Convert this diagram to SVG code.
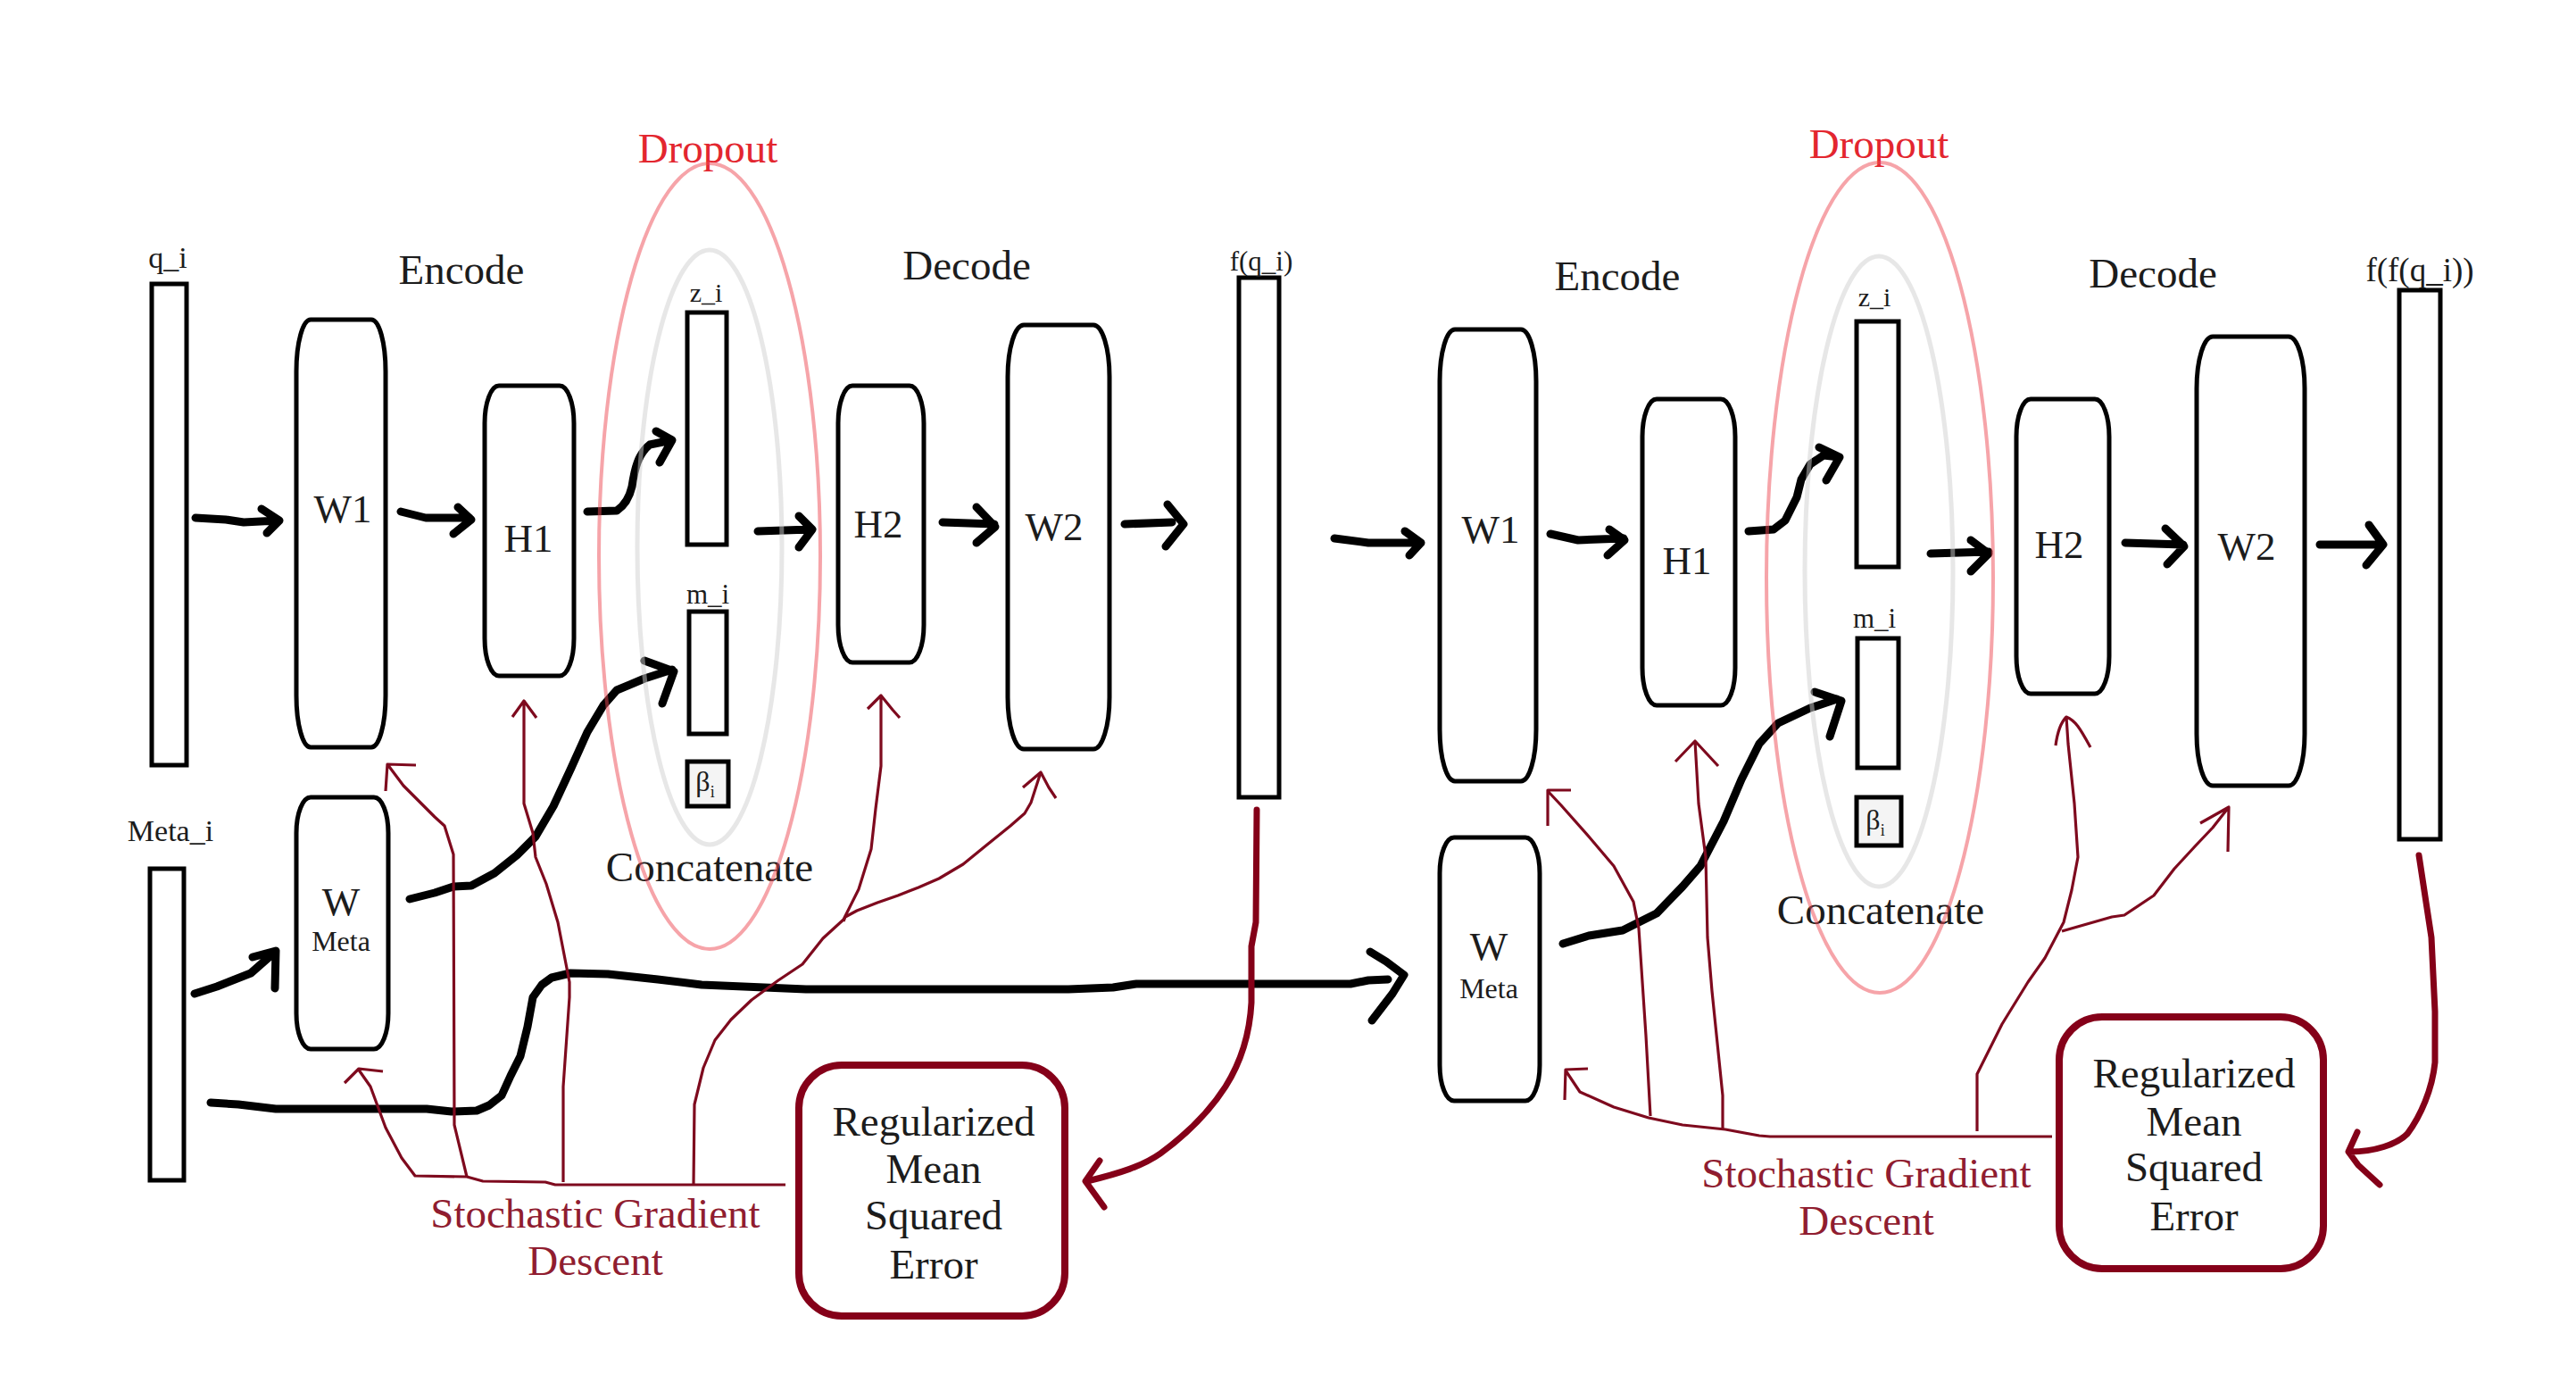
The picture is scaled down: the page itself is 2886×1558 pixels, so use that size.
<svg xmlns="http://www.w3.org/2000/svg" width="2886" height="1558" viewBox="0 0 2886 1558">
<style>
.bx{fill:#fff;stroke:#000;stroke-width:5}
.t{font-family:"Liberation Serif","Times New Roman",serif;fill:#1c1c1c;text-anchor:middle}
.big{font-size:47px}
.med{font-size:45px}
.sm{font-size:31px}
.red{fill:#e3262f}
.sgdt{fill:#901d30}
.arr{fill:none;stroke:#000;stroke-width:9;stroke-linecap:round;stroke-linejoin:round}
.sgd{fill:none;stroke:#7e0a1e;stroke-width:3.2;stroke-linejoin:round}
.loss{fill:none;stroke:#840018;stroke-width:7;stroke-linecap:round;stroke-linejoin:round}
.rm{fill:#fff;stroke:#850019;stroke-width:8}
.dr{fill:none;stroke:#ee4a54;stroke-width:4;opacity:0.5}
.dg{fill:none;stroke:#cfcfcf;stroke-width:5;opacity:0.5}
.beta{fill:#f4f4f4;stroke:#000;stroke-width:5}
</style>
<rect width="2886" height="1558" fill="#fff"/>

<!-- left labels -->
<g id="labels-left">
<text class="t big" x="517" y="318">Encode</text>
<text class="t big" x="1083" y="313">Decode</text>
<text class="t big red" x="793" y="182">Dropout</text>
<text class="t big" x="795" y="987">Concatenate</text>
</g>
<g id="labels-right">
<text class="t big" x="1812" y="325">Encode</text>
<text class="t big" x="2412" y="322">Decode</text>
<text class="t big red" x="2105" y="177">Dropout</text>
<text class="t big" x="2107" y="1035">Concatenate</text>
</g>

<!-- left nodes -->
<g id="q_i"><rect class="bx" x="170" y="318" width="39" height="539"/><text class="t" font-size="34" x="188" y="300">q_i</text></g>
<g id="W1_a"><rect class="bx" x="332" y="358" width="100" height="479" rx="16" ry="58"/><text class="t med" x="384" y="585">W1</text></g>
<g id="H1_a"><rect class="bx" x="543" y="432" width="100" height="325" rx="16" ry="42"/><text class="t med" x="592" y="618">H1</text></g>
<g id="z_i_a"><rect class="bx" x="770" y="350" width="44" height="260"/><text class="t" font-size="30" x="791" y="338">z_i</text></g>
<g id="m_i_a"><rect class="bx" x="772" y="685" width="42" height="137"/><text class="t sm" x="793" y="676">m_i</text></g>
<g id="beta_a"><rect class="beta" x="770" y="853" width="46" height="50"/><text class="t" font-size="32" x="790" y="886">β<tspan font-size="18" dy="7">i</tspan></text></g>
<g id="H2_a"><rect class="bx" x="939" y="432" width="96" height="310" rx="16" ry="42"/><text class="t med" x="984" y="602">H2</text></g>
<g id="W2_a"><rect class="bx" x="1129" y="364" width="114" height="475" rx="18" ry="58"/><text class="t med" x="1181" y="605">W2</text></g>
<g id="f_q_i"><rect class="bx" x="1388" y="311" width="45" height="582"/><text class="t sm" x="1413" y="303">f(q_i)</text></g>
<g id="Meta_i"><rect class="bx" x="168" y="973" width="38" height="349"/><text class="t" font-size="34" x="191" y="942">Meta_i</text></g>
<g id="WMeta_a"><rect class="bx" x="332" y="893" width="103" height="282" rx="16" ry="40"/><text class="t med" x="382" y="1025">W</text><text class="t" font-size="32" x="382" y="1065">Meta</text></g>
<g id="RMSE_a"><rect class="rm" x="895" y="1193" width="298" height="281" rx="48"/>
<text class="t big" x="1046" y="1272">Regularized</text><text class="t big" x="1046" y="1325">Mean</text><text class="t big" x="1046" y="1377">Squared</text><text class="t big" x="1046" y="1432">Error</text></g>
<g id="SGD_a"><text class="t big sgdt" x="667" y="1375">Stochastic Gradient</text><text class="t big sgdt" x="667" y="1428">Descent</text></g>

<!-- right nodes -->
<g id="W1_b"><rect class="bx" x="1613" y="369" width="108" height="506" rx="17" ry="58"/><text class="t med" x="1670" y="608">W1</text></g>
<g id="H1_b"><rect class="bx" x="1840" y="447" width="104" height="343" rx="16" ry="42"/><text class="t med" x="1890" y="643">H1</text></g>
<g id="z_i_b"><rect class="bx" x="2080" y="360" width="47" height="275"/><text class="t" font-size="30" x="2100" y="343">z_i</text></g>
<g id="m_i_b"><rect class="bx" x="2081" y="715" width="46" height="145"/><text class="t sm" x="2100" y="703">m_i</text></g>
<g id="beta_b"><rect class="beta" x="2080" y="893" width="50" height="54"/><text class="t" font-size="32" x="2101" y="929">β<tspan font-size="18" dy="7">i</tspan></text></g>
<g id="H2_b"><rect class="bx" x="2259" y="447" width="104" height="330" rx="16" ry="42"/><text class="t med" x="2307" y="625">H2</text></g>
<g id="W2_b"><rect class="bx" x="2461" y="377" width="121" height="503" rx="18" ry="58"/><text class="t med" x="2517" y="627">W2</text></g>
<g id="f_f_q_i"><rect class="bx" x="2688" y="325" width="46" height="615"/><text class="t" font-size="37" x="2711" y="315">f(f(q_i))</text></g>
<g id="WMeta_b"><rect class="bx" x="1613" y="938" width="112" height="295" rx="16" ry="40"/><text class="t med" x="1668" y="1075">W</text><text class="t" font-size="32" x="1668" y="1118">Meta</text></g>
<g id="RMSE_b"><rect class="rm" x="2307" y="1139" width="296" height="282" rx="48"/>
<text class="t big" x="2458" y="1218">Regularized</text><text class="t big" x="2458" y="1272">Mean</text><text class="t big" x="2458" y="1323">Squared</text><text class="t big" x="2458" y="1378">Error</text></g>
<g id="SGD_b"><text class="t big sgdt" x="2091" y="1330">Stochastic Gradient</text><text class="t big sgdt" x="2091" y="1383">Descent</text></g>

<!-- connectors -->
<g id="connectors">
<!-- black forward arrows left -->
<path class="arr" d="M219,580 L253,582 L273,585 L311,583 M293,570 L313,583 L299,597"/>
<path class="arr" d="M449,573 L477,580 L526,580 M513,568 L528,582 L508,598"/>
<path class="arr" d="M658,573 L691,572 C700,566 705,558 708,545 C711,525 715,508 728,498 L753,493 M735,483 L753,493 L739,518"/>
<path class="arr" d="M849,595 L908,593 M895,578 L910,593 L895,613"/>
<path class="arr" d="M1056,585 L1114,587 M1094,568 L1115,590 L1094,608"/>
<path class="arr" d="M1260,587 L1313,585 M1308,565 L1326,587 L1306,612"/>
<path class="arr" d="M218,1113 L243,1105 L281,1090 L306,1068 M283,1072 L309,1065 L308,1107"/>
<path class="arr" d="M459,1007 L487,1000 L508,993 L528,992 L554,978 L579,958 L600,937 L620,903 L640,860 L658,820 L676,790 L691,773 L722,760 L753,750 M722,740 L755,752 L742,788"/>
<path class="arr" d="M236,1235 L267,1237 L309,1242 L478,1242 L506,1245 L534,1244 L548,1238 L562,1227 L572,1205 L583,1183 L591,1150 L597,1117 L607,1103 L618,1095 L639,1090 L681,1091 L737,1097 L786,1103 L903,1108 L1197,1108 L1247,1106 L1273,1102 L1513,1102 L1533,1098 L1555,1097 M1535,1066 L1553,1077 L1573,1092 L1560,1113 L1537,1143"/>
<!-- black forward arrows right -->
<path class="arr" d="M1495,603 L1533,608 L1589,608 M1574,595 L1592,608 L1579,622"/>
<path class="arr" d="M1737,598 L1768,605 L1819,603 M1803,593 L1820,605 L1801,622"/>
<path class="arr" d="M1959,595 L1987,593 L2000,583 L2013,557 L2018,537 L2028,520 L2043,510 L2061,512 M2038,501 L2061,512 L2046,538"/>
<path class="arr" d="M2163,620 L2228,618 M2208,605 L2228,620 L2208,640"/>
<path class="arr" d="M2381,608 L2446,610 M2426,592 L2447,612 L2428,632"/>
<path class="arr" d="M2599,610 L2666,610 M2654,588 L2670,610 L2651,633"/>
<path class="arr" d="M1751,1057 L1780,1048 L1818,1042 L1856,1023 L1885,993 L1905,970 L1931,920 L1951,873 L1971,833 L1992,810 L2028,793 L2058,783 M2033,775 L2063,785 L2050,825"/>

<!-- SGD lines left -->
<path class="sgd" d="M880,1327 L622,1327 L611,1324 L541,1323 L523,1318 L465,1317 L450,1297 L432,1263 L415,1217 L401,1197 M429,1200 L402,1197 L386,1213"/>
<path class="sgd" d="M523,1318 L509,1260 L508,957 L498,925 L487,915 L452,880 L434,856 M466,857 L434,856 L432,886"/>
<path class="sgd" d="M631,1324 L631,1217 L638,1117 L638,1100 L625,1033 L612,990 L600,960 L597,933 L587,900 L587,785 M574,803 L587,785 L601,804"/>
<path class="sgd" d="M777,1327 L778,1237 L788,1196 L801,1165 L819,1142 L842,1120 L872,1098 L899,1080 L922,1051 L945,1030 L962,996 L976,951 L981,906 L987,858 L987,779 M972,794 L987,779 L1000,795 L1008,804"/>
<path class="sgd" d="M945,1032 L947,1027 L960,1020 L983,1011 L1006,1003 L1029,994 L1052,984 L1079,968 L1106,946 L1132,925 L1148,911 L1155,899 L1166,865 M1146,882 L1166,865 L1175,882 L1183,894"/>
<!-- SGD lines right -->
<path class="sgd" d="M2299,1273 L1983,1273 L1971,1272 L1933,1265 L1885,1260 L1847,1252 L1808,1240 L1770,1223 L1754,1199 M1779,1197 L1754,1198 L1753,1232"/>
<path class="sgd" d="M1849,1250 L1844,1160 L1840,1100 L1836,1040 L1830,1010 L1808,970 L1780,937 L1749,902 L1734,886 M1760,885 L1734,885 L1734,925"/>
<path class="sgd" d="M1930,1265 L1930,1227 L1918,1110 L1913,1050 L1911,960 L1903,900 L1899,830 M1877,853 L1899,830 L1925,858"/>
<path class="sgd" d="M2215,1267 L2215,1203 L2243,1147 L2272,1100 L2291,1073 L2312,1033 L2321,997 L2328,960 L2324,900 L2317,833 L2315,803 M2303,835 C2305,820 2308,810 2315,803 C2325,807 2330,815 2342,837"/>
<path class="sgd" d="M2310,1043 L2338,1035 L2366,1027 L2380,1025 L2413,1003 L2436,973 L2460,947 L2479,927 L2497,904 M2465,922 L2497,904 L2496,954"/>

<!-- loss arrows -->
<path class="loss" d="M1408,907 L1407,1033 L1402,1060 L1402,1123 C1400,1160 1390,1190 1373,1217 C1355,1245 1330,1270 1300,1292 C1280,1306 1255,1314 1218,1323 M1232,1300 L1216,1323 L1237,1352"/>
<path class="loss" d="M2710,958 L2724,1050 L2728,1133 L2728,1190 C2725,1220 2712,1250 2697,1270 C2685,1282 2660,1290 2633,1290 M2641,1268 L2631,1290 L2642,1305 L2666,1327"/>
</g>

<!-- dropout / concatenate outlines -->
<g id="dropout-left">
<ellipse class="dg" cx="795" cy="613" rx="81" ry="333"/>
<ellipse class="dr" cx="795" cy="623" rx="124" ry="440"/>
</g>
<g id="dropout-right">
<ellipse class="dg" cx="2105" cy="640" rx="83" ry="353"/>
<ellipse class="dr" cx="2106" cy="647" rx="127" ry="465"/>
</g>
</svg>
